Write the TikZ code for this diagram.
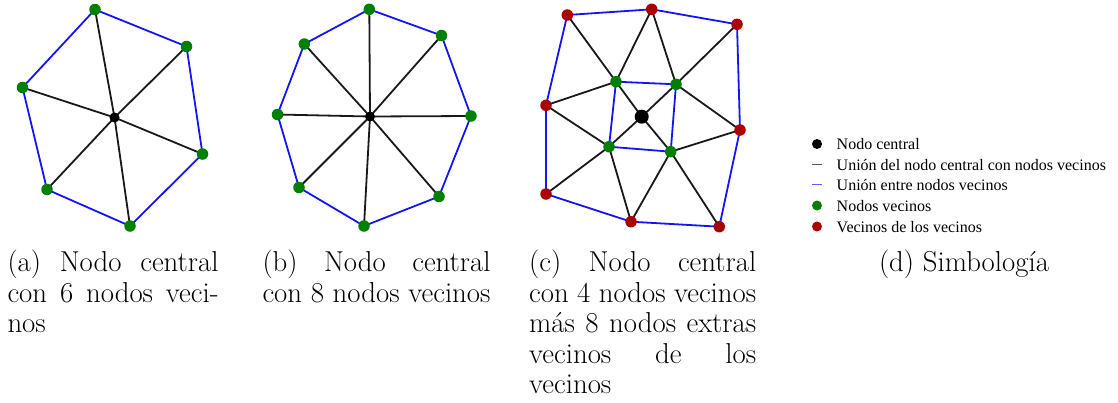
\documentclass[tikz,border=0pt]{standalone}
\usepackage{fontspec}
\newfontfamily\legendfont{Liberation Serif}
\usetikzlibrary{backgrounds}
\definecolor{dotgreen}{RGB}{0,128,0}
\definecolor{dotred}{RGB}{170,0,0}
\definecolor{edgeblue}{RGB}{20,20,245}
\tikzset{
  gdot/.style={circle,fill=dotgreen,inner sep=0pt,minimum size=11.5pt},
  rdot/.style={circle,fill=dotred,inner sep=0pt,minimum size=11.5pt},
  cdot/.style={circle,fill=black,inner sep=0pt,minimum size=10pt},
  bigcdot/.style={circle,fill=black,inner sep=0pt,minimum size=14pt},
  spoke/.style={draw=black!90,line width=1.8pt},
  rim/.style={draw=edgeblue,line width=1.8pt},
  capline/.style={anchor=base west,inner sep=0pt,font=\fontsize{28.8}{30}\selectfont},
  legtext/.style={anchor=base west,inner sep=0pt,font=\legendfont\fontsize{16}{19}\selectfont},
  legdot/.style={circle,inner sep=0pt,minimum size=10pt},
}
\begin{document}
\begin{tikzpicture}[x=1pt,y=-1pt]
\useasboundingbox (0,0) rectangle (1118,402);
% ---------------- panel (a)
\node[cdot] (a0) at (114.5,117.5) {};
\node[gdot] (a1) at (95,9.5) {};
\node[gdot] (a2) at (186.5,46.5) {};
\node[gdot] (a3) at (202.5,154) {};
\node[gdot] (a4) at (130,226) {};
\node[gdot] (a5) at (47,189.5) {};
\node[gdot] (a6) at (22.5,87.5) {};
\begin{scope}[on background layer]
\foreach \i in {1,...,6} \draw[spoke] (a0.center) -- (a\i.center);
\draw[rim] (a1.center) -- (a2.center) -- (a3.center) -- (a4.center) -- (a5.center) -- (a6.center) -- cycle;
\end{scope}
% ---------------- panel (b)
\node[cdot] (b0) at (370,116.5) {};
\node[gdot] (b1) at (369.3,9.3) {};
\node[gdot] (b2) at (441.5,35.5) {};
\node[gdot] (b3) at (471,116) {};
\node[gdot] (b4) at (439,196.5) {};
\node[gdot] (b5) at (364,226) {};
\node[gdot] (b6) at (299,187.5) {};
\node[gdot] (b7) at (277.5,114.5) {};
\node[gdot] (b8) at (304.3,44) {};
\begin{scope}[on background layer]
\foreach \i in {1,...,8} \draw[spoke] (b0.center) -- (b\i.center);
\draw[rim] (b1.center) -- (b2.center) -- (b3.center) -- (b4.center) -- (b5.center) -- (b6.center) -- (b7.center) -- (b8.center) -- cycle;
\end{scope}
% ---------------- panel (c)
\node[bigcdot] (c0) at (641.7,116.7) {};
\node[gdot] (g1) at (616,81.7) {};
\node[gdot] (g2) at (676,84.3) {};
\node[gdot] (g3) at (670.7,151.7) {};
\node[gdot] (g4) at (609,146.7) {};
\node[rdot] (r1) at (567.3,15) {};
\node[rdot] (r2) at (651.7,9.3) {};
\node[rdot] (r3) at (737,24.3) {};
\node[rdot] (r4) at (740,130) {};
\node[rdot] (r5) at (719.3,226.7) {};
\node[rdot] (r6) at (631,221.7) {};
\node[rdot] (r7) at (546,194) {};
\node[rdot] (r8) at (546,105.3) {};
\begin{scope}[on background layer]
\foreach \i in {1,...,4} \draw[spoke] (c0.center) -- (g\i.center);
\foreach \a/\b in {r1/g1,r2/g1,r2/g2,r3/g2,g2/r4,r4/g3,g3/r5,g3/r6,g4/r6,g4/r7,g4/r8,r8/g1}
  \draw[spoke] (\a.center) -- (\b.center);
\draw[rim] (r1.center) -- (r2.center) -- (r3.center) -- (r4.center) -- (r5.center) -- (r6.center) -- (r7.center) -- (r8.center) -- cycle;
\draw[rim] (g1.center) -- (g2.center) -- (g3.center) -- (g4.center) -- cycle;
\end{scope}
% ---------------- legend (d)
\node[legdot,fill=black] (l1) at (817,144) {};
\coordinate (l2a) at (812,164.5); \coordinate (l2b) at (822,164.5);
\draw[black!65,line width=1pt] (l2a) -- (l2b);
\coordinate (l3a) at (812,184.5); \coordinate (l3b) at (822,184.5);
\draw[edgeblue!70,line width=1pt] (l3a) -- (l3b);
\node[legdot,fill=dotgreen] (l4) at (817,205.5) {};
\node[legdot,fill=dotred] (l5) at (817,226.5) {};
\node[legtext] (t1) at (836.5,149.5) {Nodo central};
\node[legtext] (t2) at (836.5,170) {Unión del nodo central con nodos vecinos};
\node[legtext] (t3) at (836.5,190) {Unión entre nodos vecinos};
\node[legtext] (t4) at (836.5,211) {Nodos vecinos};
\node[legtext] (t5) at (836.5,232) {Vecinos de los vecinos};
% ---------------- captions
\node[capline] (ca1) at (7.3,271.5) {\makebox[211pt][s]{(a) Nodo central}};
\node[capline] (ca2) at (7.3,302) {\makebox[211pt][s]{con 6 nodos veci-}};
\node[capline] (ca3) at (7.3,332.5) {nos};
\node[capline] (cb1) at (262.3,271.5) {\makebox[228pt][s]{(b) Nodo central}};
\node[capline] (cb2) at (262.3,302) {\makebox[228pt][s]{con 8 nodos vecinos}};
\node[capline] (cc1) at (529,271.5) {\makebox[227pt][s]{(c) Nodo central}};
\node[capline] (cc2) at (529,302) {\makebox[227pt][s]{con 4 nodos vecinos}};
\node[capline] (cc3) at (529,332.5) {\makebox[227pt][s]{más 8 nodos extras}};
\node[capline] (cc4) at (529,363) {\makebox[227pt][s]{vecinos de los}};
\node[capline] (cc5) at (529,393.5) {vecinos};
\node[capline,anchor=base] (cd1) at (964,271.5) {(d) Simbología};
\end{tikzpicture}
\end{document}
